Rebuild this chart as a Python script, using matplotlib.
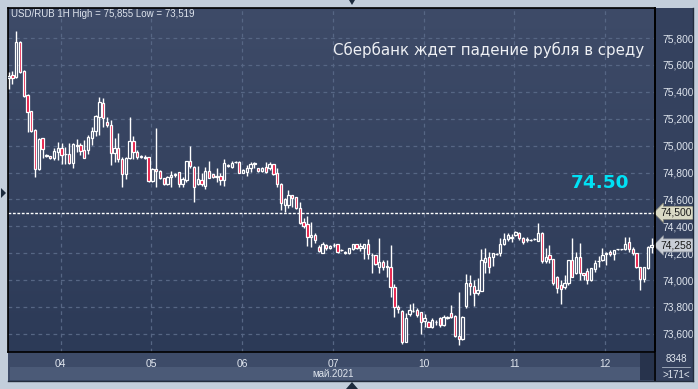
import matplotlib
matplotlib.use("Agg")
import matplotlib.pyplot as plt
import numpy as np
from matplotlib.patches import Rectangle, Polygon
from matplotlib.colors import LinearSegmentedColormap

# ---------------- data (USD/RUB, 1H candles) ----------------
opens = [75.50, 75.525, 75.51, 75.77, 75.555, 75.375, 75.255, 75.116, 74.826, 75.054,
         74.926, 74.92, 74.906, 74.955, 74.98, 74.935, 74.94, 74.87, 75.0, 75.005,
         74.965, 74.97, 75.06, 75.11, 75.215, 75.32, 75.178, 75.153, 74.943, 74.98,
         74.90, 74.79, 74.91, 75.037, 74.955, 74.913, 74.915, 74.913, 74.737, 74.824,
         74.811, 74.757, 74.712, 74.769, 74.78, 74.806, 74.715, 74.744, 74.885, 74.843,
         74.715, 74.744, 74.70, 74.811, 74.789, 74.77, 74.774, 74.744, 74.856, 74.843,
         74.875, 74.88, 74.80, 74.806, 74.831, 74.866, 74.831, 74.811, 74.843, 74.836,
         74.863, 74.794, 74.715, 74.558, 74.56, 74.633, 74.615, 74.534, 74.435, 74.415,
         74.323, 74.335, 74.249, 74.205, 74.26, 74.235, 74.26, 74.266, 74.224, 74.199,
         74.199, 74.231, 74.266, 74.236, 74.236, 74.266, 74.187, 74.187, 74.10, 74.132,
         74.107, 74.095, 73.951, 73.803, 73.773, 73.542, 73.746, 73.77, 73.778, 73.76,
         73.696, 73.691, 73.654, 73.69, 73.721, 73.666, 73.72, 73.753, 73.733, 73.584,
         73.56, 73.807, 73.976, 73.956, 73.901, 73.921, 74.137, 74.169, 74.169, 74.194,
         74.199, 74.268, 74.303, 74.315, 74.335, 74.352, 74.31, 74.30, 74.298, 74.303,
         74.293, 74.352, 74.144, 74.186, 74.154, 74.02, 73.963, 73.951, 73.976, 74.149,
         74.055, 74.169, 74.055, 74.07, 74.001, 74.08, 74.14, 74.149, 74.194, 74.211,
         74.194, 74.229, 74.229, 74.229, 74.286, 74.229, 74.199, 74.095, 74.006, 74.087,
         74.248]
highs = [75.55, 75.555, 75.855, 75.78, 75.56, 75.38, 75.26, 75.12, 75.06, 75.06,
         74.94, 74.925, 74.98, 75.025, 75.017, 74.987, 75.017, 75.02, 75.05, 75.017,
         75.04, 75.08, 75.14, 75.228, 75.36, 75.357, 75.215, 75.19, 75.055, 75.09,
         74.913, 74.915, 75.215, 75.071, 74.967, 74.93, 74.93, 74.918, 74.831, 75.128,
         74.819, 74.76, 74.775, 74.814, 74.80, 74.806, 74.764, 74.885, 74.997, 74.848,
         74.848, 74.799, 74.843, 74.885, 74.79, 74.831, 74.794, 74.898, 74.865, 74.885,
         74.885, 74.885, 74.825, 74.856, 74.88, 74.88, 74.836, 74.84, 74.88, 74.88,
         74.866, 74.831, 74.72, 74.613, 74.67, 74.636, 74.62, 74.583, 74.459, 74.477,
         74.435, 74.348, 74.26, 74.28, 74.27, 74.26, 74.273, 74.27, 74.23, 74.215,
         74.24, 74.266, 74.27, 74.273, 74.27, 74.306, 74.199, 74.19, 74.316, 74.15,
         74.15, 74.261, 73.969, 73.815, 73.778, 73.753, 73.82, 73.827, 73.79, 73.765,
         73.746, 73.695, 73.721, 73.703, 73.728, 73.74, 73.735, 73.815, 73.74, 73.914,
         73.735, 74.045, 74.038, 74.001, 74.013, 74.229, 74.236, 74.211, 74.204, 74.20,
         74.31, 74.348, 74.352, 74.343, 74.368, 74.36, 74.318, 74.318, 74.305, 74.31,
         74.422, 74.355, 74.236, 74.261, 74.154, 74.03, 74.001, 74.038, 74.149, 74.31,
         74.211, 74.273, 74.055, 74.087, 74.09, 74.149, 74.179, 74.236, 74.211, 74.224,
         74.226, 74.232, 74.233, 74.318, 74.318, 74.243, 74.20, 74.095, 74.10, 74.253,
         74.31]
lows = [75.42, 75.46, 75.50, 75.54, 75.36, 75.10, 75.10, 74.77, 74.82, 74.91,
        74.915, 74.90, 74.895, 74.895, 74.86, 74.86, 74.86, 74.83, 74.955, 74.93,
        74.905, 74.94, 75.005, 75.07, 75.08, 75.14, 75.14, 74.856, 74.88, 74.88,
        74.69, 74.75, 74.898, 74.898, 74.898, 74.905, 74.90, 74.732, 74.732, 74.695,
        74.75, 74.705, 74.705, 74.695, 74.77, 74.69, 74.69, 74.732, 74.831, 74.583,
        74.707, 74.70, 74.675, 74.757, 74.76, 74.732, 74.707, 74.70, 74.843, 74.831,
        74.87, 74.794, 74.795, 74.774, 74.806, 74.831, 74.806, 74.806, 74.799, 74.819,
        74.785, 74.69, 74.521, 74.509, 74.534, 74.546, 74.53, 74.417, 74.385, 74.254,
        74.249, 74.273, 74.21, 74.20, 74.225, 74.23, 74.249, 74.205, 74.215, 74.195,
        74.195, 74.224, 74.23, 74.216, 74.155, 74.155, 74.05, 74.112, 74.05, 74.075,
        74.026, 73.877, 73.728, 73.753, 73.523, 73.542, 73.736, 73.765, 73.728, 73.597,
        73.654, 73.65, 73.642, 73.666, 73.654, 73.66, 73.71, 73.716, 73.58, 73.519,
        73.555, 73.79, 73.889, 73.807, 73.889, 73.921, 74.055, 74.055, 74.105, 74.185,
        74.179, 74.261, 74.293, 74.286, 74.328, 74.298, 74.268, 74.286, 74.29, 74.295,
        74.29, 74.13, 74.129, 74.124, 73.963, 73.906, 73.822, 73.931, 73.963, 74.02,
        74.045, 74.001, 74.001, 73.971, 73.995, 74.063, 74.095, 74.144, 74.112, 74.179,
        74.149, 74.226, 74.226, 74.224, 74.211, 74.186, 74.09, 73.926, 73.988, 74.08,
        74.199]
closes = [75.52, 75.50, 75.77, 75.545, 75.37, 75.25, 75.11, 74.826, 75.05, 74.975,
          74.928, 74.908, 74.96, 74.98, 74.93, 74.935, 74.87, 75.01, 75.005, 74.96,
          74.91, 75.066, 75.11, 75.22, 75.325, 75.203, 75.15, 74.943, 74.98, 74.898,
          74.79, 74.905, 75.037, 74.955, 74.913, 74.92, 74.91, 74.737, 74.824, 74.809,
          74.757, 74.712, 74.769, 74.781, 74.789, 74.715, 74.752, 74.885, 74.848, 74.69,
          74.752, 74.712, 74.811, 74.762, 74.764, 74.774, 74.744, 74.873, 74.85, 74.873,
          74.88, 74.80, 74.82, 74.836, 74.863, 74.868, 74.811, 74.831, 74.806, 74.863,
          74.789, 74.715, 74.571, 74.60, 74.633, 74.608, 74.534, 74.427, 74.402, 74.323,
          74.335, 74.298, 74.215, 74.265, 74.235, 74.25, 74.262, 74.212, 74.225, 74.212,
          74.236, 74.266, 74.236, 74.256, 74.266, 74.192, 74.188, 74.12, 74.132, 74.10,
          74.095, 73.951, 73.803, 73.785, 73.542, 73.721, 73.778, 73.772, 73.741, 73.691,
          73.721, 73.654, 73.703, 73.691, 73.666, 73.728, 73.728, 73.728, 73.584, 73.56,
          73.728, 73.976, 73.956, 73.901, 73.926, 74.149, 74.162, 74.095, 74.199, 74.195,
          74.268, 74.303, 74.335, 74.32, 74.36, 74.31, 74.286, 74.305, 74.298, 74.303,
          74.352, 74.144, 74.169, 74.154, 73.981, 73.939, 73.931, 73.976, 74.149, 74.025,
          74.169, 74.055, 74.038, 74.001, 74.087, 74.124, 74.144, 74.186, 74.204, 74.194,
          74.224, 74.229, 74.23, 74.268, 74.229, 74.199, 74.095, 74.006, 74.095, 74.248,
          74.258]

day_labels = ["04", "05", "06", "07", "10", "11", "12"]
day_start = [14, 38, 62, 86, 110, 134, 158]
y_ticks = [75.8, 75.6, 75.4, 75.2, 75.0, 74.8, 74.6, 74.4, 74.2, 74.0, 73.8, 73.6]
level = 74.50
last_price = closes[-1]
title_txt = "USD/RUB 1H High = 75,855 Low = 73,519"
headline = "Сбербанк ждет падение рубля в среду"
level_txt = "74.50"

# ---------------- figure ----------------
W, H = 698, 389
fig = plt.figure(figsize=(W / 100, H / 100), dpi=100)
fig.patch.set_facecolor("#c3cedb")

def fx(px):
    return px / W

def fy(py):
    return 1 - py / H

L, R, T, B = 8, 655, 8, 352
ax = fig.add_axes([fx(L), fy(B), fx(R - L), (B - T) / H])

# right price panel & bottom time panel
fig.add_artist(Rectangle((fx(R), fy(B)), fx(693 - R), (B - T) / H,
                         transform=fig.transFigure, facecolor="#34415e", edgecolor="none", zorder=0))
fig.add_artist(Rectangle((fx(L), fy(381)), fx(693 - L), 29 / H,
                         transform=fig.transFigure, facecolor="#3d4b68", edgecolor="none", zorder=0))
fig.add_artist(Rectangle((fx(10), fy(380)), fx(640 - 10), 13 / H,
                         transform=fig.transFigure, facecolor="#4b5a77", edgecolor="none", zorder=1))
fig.add_artist(Rectangle((fx(640), fy(380)), fx(14), 27 / H,
                         transform=fig.transFigure, facecolor="#27334c", edgecolor="none", zorder=1))
fig.add_artist(Rectangle((fx(R), fy(381)), fx(693 - R), 29 / H,
                         transform=fig.transFigure, facecolor="#34415e", edgecolor="none", zorder=1))
fig.add_artist(plt.Line2D([fx(R), fx(R)], [fy(T), fy(381)], transform=fig.transFigure,
                          color="black", lw=1.2, zorder=3))
fig.add_artist(plt.Line2D([fx(L), fx(693)], [fy(381), fy(381)], transform=fig.transFigure,
                          color="#222c3c", lw=1, zorder=3))
fig.add_artist(plt.Line2D([fx(693), fx(693)], [fy(T), fy(381)], transform=fig.transFigure,
                          color="#222c3c", lw=1, zorder=3))
fig.add_artist(plt.Line2D([fx(662), fx(690)], [fy(367), fy(367)], transform=fig.transFigure,
                          color="#aab4c4", lw=0.6, zorder=3))

# small triangles on frame
for pts in ([(349, 0), (355, 0), (352, 5)], [(346, 389), (358, 389), (352, 382)],
            [(1, 188), (1, 198), (6, 193)]):
    fig.add_artist(Polygon([(fx(a), fy(b)) for a, b in pts], closed=True,
                           transform=fig.transFigure, facecolor="#1c2a3c", edgecolor="none", zorder=4))

# gradient background
cmap = LinearSegmentedColormap.from_list("bg", ["#3e4b68", "#2c3a57"])
ax.imshow(np.linspace(0, 1, 256).reshape(-1, 1), cmap=cmap, aspect="auto",
          extent=[0, 1, 0, 1], transform=ax.transAxes, zorder=0)

ylo = 75.8 - (B - 38) / 134.5
yhi = 75.8 + (38 - T) / 134.5
ax.set_ylim(ylo, yhi)
ax.set_xlim(-0.16, 170.9)

# grid
grid_col = "#566684"
for v in y_ticks:
    ax.axhline(v, color=grid_col, lw=0.9, ls=(0, (3, 3)), zorder=1)
xg = [d - 0.25 for d in day_start]
for x in xg:
    ax.axvline(x, color=grid_col, lw=0.9, ls=(0, (3, 3)), zorder=1)

# candles
idx = np.arange(len(closes))
o = np.array(opens); c = np.array(closes); h = np.array(highs); lo = np.array(lows)
top = np.maximum(o, c); bot = np.minimum(o, c)
ax.vlines(idx, top, h, color="white", lw=1.0, zorder=3)
ax.vlines(idx, lo, bot, color="white", lw=1.0, zorder=3)
up = c >= o
ax.bar(idx[up], (top - bot)[up], bottom=bot[up], width=0.62, facecolor="#34415e",
       edgecolor="white", linewidth=0.9, zorder=4)
ax.bar(idx[~up], (top - bot)[~up], bottom=bot[~up], width=0.62, facecolor="#e5103c",
       edgecolor="white", linewidth=0.9, zorder=4)

# level line
ax.axhline(level, color="white", lw=1.0, ls=(0, (2, 1.2)), zorder=2)

# axes styling
for s in ax.spines.values():
    s.set_color("black")
    s.set_linewidth(1.2)
ax.yaxis.tick_right()
ax.set_yticks(y_ticks)
ax.set_yticklabels([f"{v:.3f}".replace(".", ",") for v in y_ticks])
ax.tick_params(axis="y", length=0, pad=5, labelsize=7.4, labelcolor="#dfe5ee")
for t in ax.get_yticklabels():
    t.set_fontfamily("Liberation Sans")
ax.set_xticks(xg)
ax.set_xticklabels(day_labels)
ax.tick_params(axis="x", length=0, pad=5, labelsize=7.4, labelcolor="#dfe5ee")
for t in ax.get_xticklabels():
    t.set_fontfamily("Liberation Sans")

# price tags
ax.annotate(f"{level:.3f}".replace(".", ","), xy=(1.0, level), xycoords=("axes fraction", "data"),
            xytext=(4, 0), textcoords="offset points", va="center", ha="left", fontsize=7.4,
            family="Liberation Sans", color="#1a1a1a", annotation_clip=False,
            bbox=dict(boxstyle="larrow,pad=0.15", fc="#d9d9c4", ec="#8a8a7a", lw=0.5))
ax.annotate(f"{last_price:.3f}".replace(".", ","), xy=(1.0, last_price), xycoords=("axes fraction", "data"),
            xytext=(4, 0), textcoords="offset points", va="center", ha="left", fontsize=7.4,
            family="Liberation Sans", color="#1a1a1a", annotation_clip=False,
            bbox=dict(boxstyle="larrow,pad=0.15", fc="#c9ced6", ec="#8a909a", lw=0.5))

# texts
fig.text(fx(11), fy(14), title_txt, fontsize=7.0, family="Liberation Sans", color="#dde3ec",
         va="center", ha="left")
fig.text(fx(333), fy(50), headline, fontsize=10.8, color="#eef0f4", va="center", ha="left",
         fontweight="medium")
fig.text(fx(571), fy(183), level_txt, fontsize=13.3, color="#00e1f5", fontweight="bold",
         va="center", ha="left")
fig.text(fx(333), fy(374), "май.2021", fontsize=7.0, family="Liberation Sans", color="#dfe5ee",
         va="center", ha="center")
fig.text(fx(676), fy(359), "8348", fontsize=7.0, family="Liberation Sans", color="#dfe5ee",
         va="center", ha="center")
fig.text(fx(676), fy(375), ">171<", fontsize=7.0, family="Liberation Sans", color="#dfe5ee",
         va="center", ha="center")

fig.savefig("out.png", dpi=100, facecolor=fig.get_facecolor())
